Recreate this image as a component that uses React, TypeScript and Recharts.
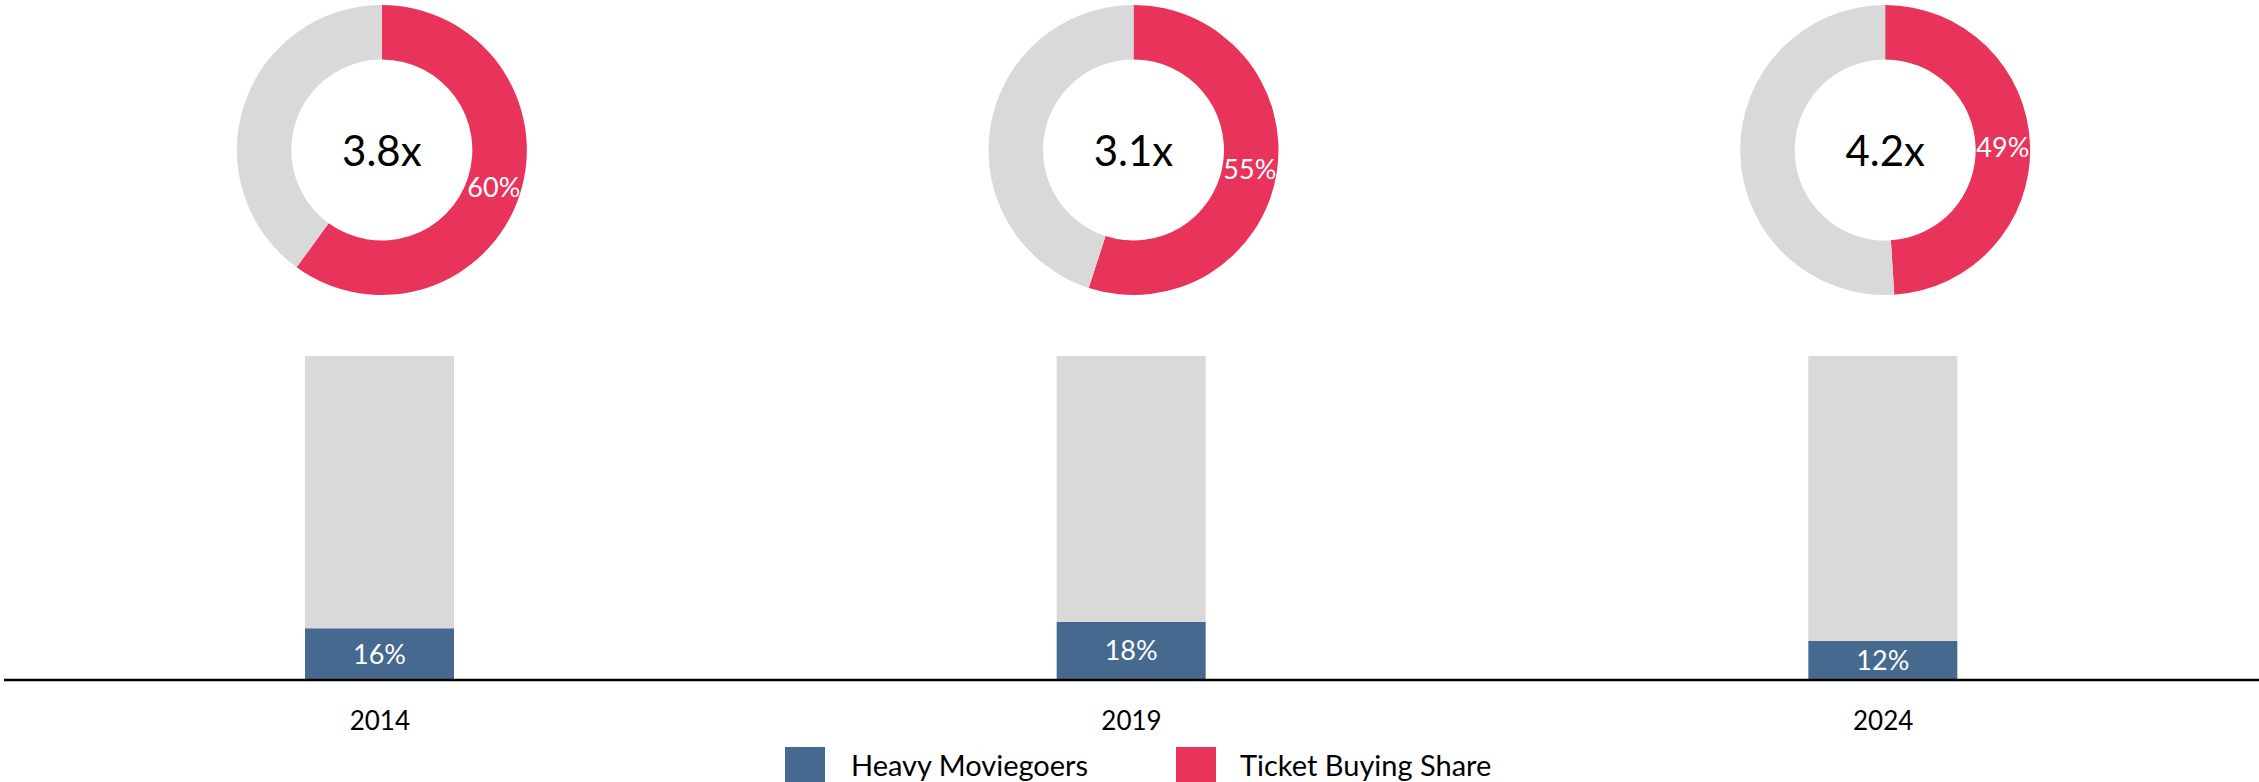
import React from "react";
import {
  BarChart, Bar, XAxis, YAxis, Legend, LabelList, PieChart, Pie, Cell
} from "recharts";

const years = ["2014", "2019", "2024"];
const heavyMoviegoers = [16, 18, 12];
const ticketBuyingShare = [60, 55, 49];
const multipliers = ["3.8x", "3.1x", "4.2x"];
const legendItems = [
  { name: "Heavy Moviegoers", color: "#46698F" },
  { name: "Ticket Buying Share", color: "#E8345B" },
];

const BLUE = "#46698F";
const RED = "#E8345B";
const GREY = "#D9D9D9";
const FONT = "Lato, 'Open Sans', sans-serif";

const W = 2259;
const H = 782;
const PLOT_LEFT = 4;
const BAND = (W - PLOT_LEFT) / years.length;

const barData = years.map((y, i) => ({
  year: y,
  heavy: heavyMoviegoers[i],
  rest: 100 - heavyMoviegoers[i],
}));

const pieData = years.map((y, i) => [
  { name: "Ticket Buying Share", value: ticketBuyingShare[i] },
  { name: "Other", value: 100 - ticketBuyingShare[i] },
]);

const RAD = Math.PI / 180;

// percent in the middle of the red ring, multiplier in the hole
const makeLabel = (k: number) => (props: any) => {
  const { cx, cy, midAngle, innerRadius, outerRadius, index, value } = props;
  if (index !== 0) return null;
  const r = (innerRadius + outerRadius) / 2;
  const x = cx + r * Math.cos(-midAngle * RAD);
  const y = cy + r * Math.sin(-midAngle * RAD);
  return (
    <g>
      <text x={x} y={y} fill="#fff" textAnchor="middle" dominantBaseline="central"
        fontSize={27} fontFamily={FONT}>
        {value}%
      </text>
      <text x={cx} y={cy} fill="#000" textAnchor="middle" dominantBaseline="central"
        fontSize={42} fontFamily={FONT}>
        {multipliers[k]}
      </text>
    </g>
  );
};

const renderLegend = () => (
  <div style={{ display: "flex", alignItems: "flex-start", paddingLeft: 785, fontFamily: FONT, fontSize: 29, lineHeight: "35px", height: 35, color: "#000" }}>
    {legendItems.map((it, i) => (
      <div key={it.name} style={{ display: "flex", alignItems: "flex-start" }}>
        <div style={{ width: 40, height: 35, background: it.color, marginRight: 26 - (i ? 2 : 0) }} />
        <span style={{ width: i === 0 ? 325 : "auto", whiteSpace: "nowrap" }}>{it.name}</span>
      </div>
    ))}
  </div>
);

export default function App() {
  return (
    <div style={{ position: "absolute", left: 0, top: 0, width: W, height: H, background: "#fff", overflow: "hidden" }}>
      <BarChart width={W} height={H} data={barData} barSize={149}
        margin={{ top: 356, right: 0, left: PLOT_LEFT, bottom: 0 }}>
        <XAxis dataKey="year" height={67} tickLine={false} tickSize={0} tickMargin={32}
          axisLine={{ stroke: "#000", strokeWidth: 2.5 }}
          tick={{ fill: "#000", fontSize: 26, fontFamily: FONT }} />
        <YAxis hide domain={[0, 100]} />
        <Legend verticalAlign="bottom" content={renderLegend}
          wrapperStyle={{ left: 0, width: W, height: 35, bottom: 0 }} />
        <Bar dataKey="heavy" stackId="a" fill={BLUE} isAnimationActive={false}>
          <LabelList dataKey="heavy" position="center" fill="#fff" fontSize={27}
            fontFamily={FONT} formatter={(v: any) => `${v}%`} />
        </Bar>
        <Bar dataKey="rest" stackId="a" fill={GREY} isAnimationActive={false} />
      </BarChart>

      <div style={{ position: "absolute", left: 0, top: 0 }}>
        <PieChart width={W} height={300} margin={{ top: 0, right: 0, bottom: 0, left: 0 }}>
          {pieData.map((d, i) => (
            <Pie key={years[i]} data={d} dataKey="value" cx={PLOT_LEFT + BAND * (i + 0.5) + 2} cy={150}
              innerRadius={90.5} outerRadius={145} startAngle={90} endAngle={-270}
              stroke="none" label={makeLabel(i)} labelLine={false} isAnimationActive={false}>
              <Cell fill={RED} />
              <Cell fill={GREY} />
            </Pie>
          ))}
        </PieChart>
      </div>
    </div>
  );
}
